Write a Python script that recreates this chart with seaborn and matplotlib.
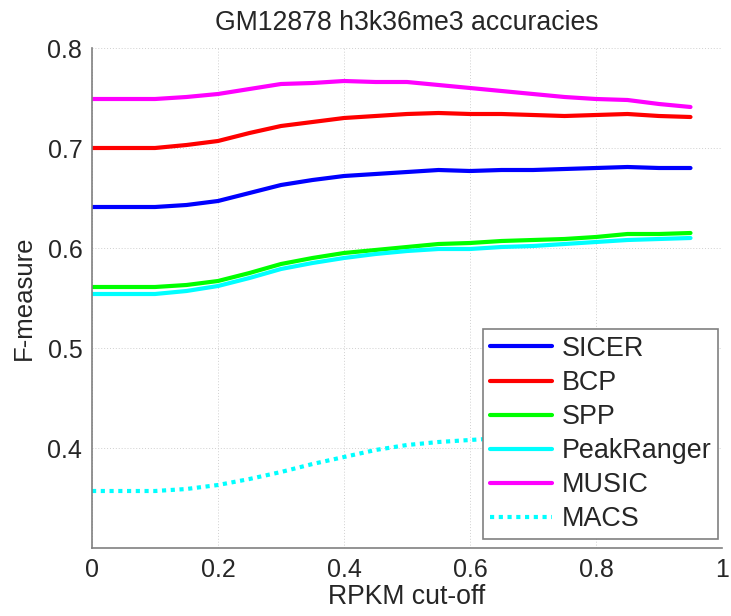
import numpy as np
import pandas as pd
import matplotlib
matplotlib.use("Agg")
import matplotlib.pyplot as plt
import seaborn as sns

cutoff = [0.0, 0.05, 0.1, 0.15, 0.2, 0.25, 0.3, 0.35, 0.4, 0.45,
          0.5, 0.55, 0.6, 0.65, 0.7, 0.75, 0.8, 0.85, 0.9, 0.95]
sicer = [0.641, 0.641, 0.641, 0.643, 0.647, 0.655, 0.663, 0.668, 0.672, 0.674,
         0.676, 0.678, 0.677, 0.678, 0.678, 0.679, 0.680, 0.681, 0.680, 0.680]
bcp = [0.700, 0.700, 0.700, 0.703, 0.707, 0.715, 0.722, 0.726, 0.730, 0.732,
       0.734, 0.735, 0.734, 0.734, 0.733, 0.732, 0.733, 0.734, 0.732, 0.731]
spp = [0.561, 0.561, 0.561, 0.563, 0.567, 0.575, 0.584, 0.590, 0.595, 0.598,
       0.601, 0.604, 0.605, 0.607, 0.608, 0.609, 0.611, 0.614, 0.614, 0.615]
peakranger = [0.554, 0.554, 0.554, 0.557, 0.562, 0.570, 0.579, 0.585, 0.590, 0.594,
              0.597, 0.599, 0.599, 0.601, 0.602, 0.604, 0.606, 0.608, 0.609, 0.610]
music = [0.749, 0.749, 0.749, 0.751, 0.754, 0.759, 0.764, 0.765, 0.767, 0.766,
         0.766, 0.763, 0.760, 0.757, 0.754, 0.751, 0.749, 0.748, 0.744, 0.741]
macs = [0.357, 0.357, 0.357, 0.359, 0.363, 0.369, 0.376, 0.384, 0.391, 0.398,
        0.403, 0.406, 0.408, 0.410, 0.412, 0.413, 0.414, 0.415, 0.416, 0.417]

methods = ["SICER", "BCP", "SPP", "PeakRanger", "MUSIC", "MACS"]
series = [sicer, bcp, spp, peakranger, music, macs]
colors = ["#0000ff", "#ff0000", "#00ff00", "#00ffff", "#ff00ff", "#00ffff"]

df = pd.concat([pd.DataFrame({"cutoff": cutoff, "F": vals, "method": m})
                for m, vals in zip(methods, series)], ignore_index=True)

sns.set_style("white")
plt.rcParams["font.family"] = ["Liberation Sans", "DejaVu Sans"]

fig = plt.figure(figsize=(7.31, 6.16), dpi=100)
ax = fig.add_axes([92/731, 1-548/616, (722-92)/731, 500/616])

palette = dict(zip(methods, colors))
dashes = {m: "" for m in methods}
dashes["MACS"] = (1, 1.1)
sns.lineplot(data=df, x="cutoff", y="F", hue="method", style="method",
             palette=palette, dashes=dashes, linewidth=3, ax=ax,
             hue_order=methods, style_order=methods)

ax.set_xlim(0, 1)
ax.set_ylim(0.3, 0.8)
ax.set_xticks([0, 0.2, 0.4, 0.6, 0.8, 1])
ax.set_xticklabels(["0", "0.2", "0.4", "0.6", "0.8", "1"])
ax.set_yticks([0.4, 0.5, 0.6, 0.7, 0.8])
ax.set_yticklabels(["0.4", "0.5", "0.6", "0.7", "0.8"])
ax.tick_params(direction="in", length=5, color="#808080", labelsize=18, pad=7)
ax.grid(True, linestyle=(0, (1, 2)), color="#d0d0d0", linewidth=0.7)
for s in ["top", "right"]:
    ax.spines[s].set_visible(False)
for s in ["left", "bottom"]:
    ax.spines[s].set_color("#808080")
    ax.spines[s].set_linewidth(1.2)

ax.set_xlabel("RPKM cut-off", fontsize=19.2, labelpad=2)
ax.set_ylabel("F-measure", fontsize=18.5, labelpad=8)
ax.set_title("GM12878 h3k36me3 accuracies", fontsize=19.2, pad=13)

leg = ax.legend(loc="lower right", bbox_to_anchor=(0.9937, 0.018), fontsize=19.4,
                frameon=True, fancybox=False, framealpha=1, edgecolor="#808080",
                handlelength=2.3, labelspacing=0.3, borderpad=0.25,
                borderaxespad=0, handletextpad=0.35, title=None)
leg.get_frame().set_linewidth(1.2)
for h in leg.get_lines():
    h.set_linewidth(3)

fig.savefig("out.png", dpi=100)
